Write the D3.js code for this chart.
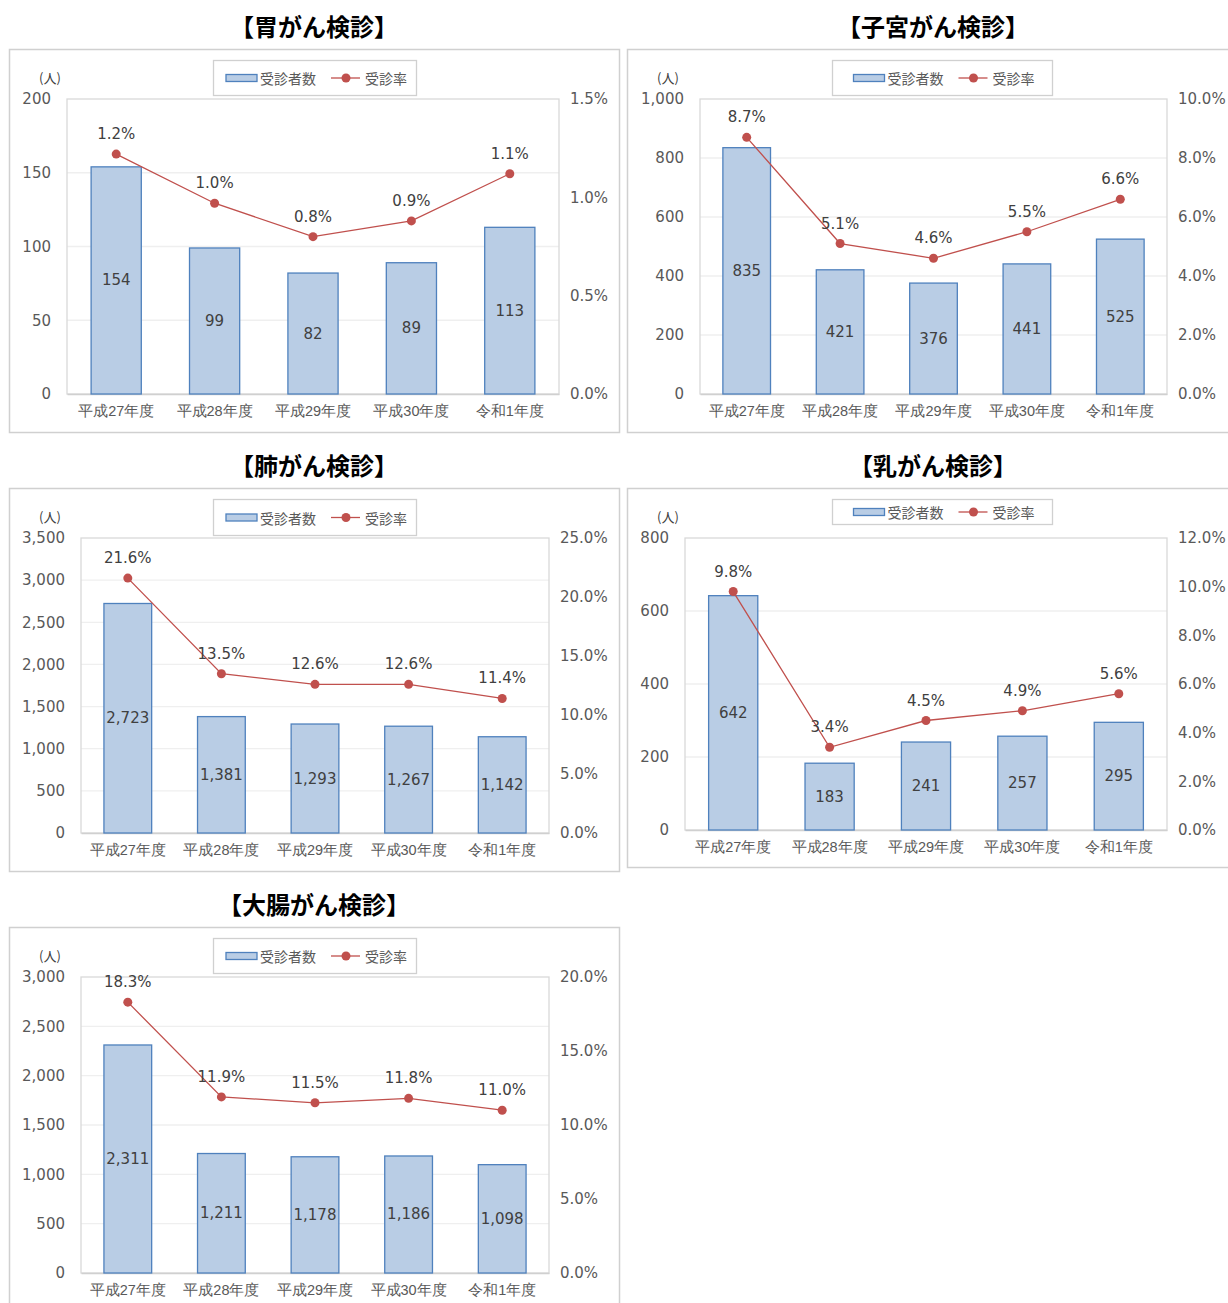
<!DOCTYPE html>
<html>
<head>
<meta charset="utf-8">
<script src="https://cdn.jsdelivr.net/npm/d3@7"></script>
<style>
body{margin:0;background:#fff;}
svg{display:block;font-family:"Noto Sans CJK JP","Noto Sans",sans-serif;}
.num{font-family:"DejaVu Sans","Noto Sans CJK JP",sans-serif;}
</style>
</head>
<body>
<div id="chart"></div>
<script>
// data
var categories=["平成27年度","平成28年度","平成29年度","平成30年度","令和1年度"];

var stomachCounts=[154,99,82,89,113];
var stomachRates=[1.22,0.97,0.80,0.88,1.12];

var uterineCounts=[835,421,376,441,525];
var uterineRates=[8.7,5.1,4.6,5.5,6.6];

var lungCounts=[2723,1381,1293,1267,1142];
var lungRates=[21.6,13.5,12.6,12.6,11.4];

var breastCounts=[642,183,241,257,295];
var breastRates=[9.8,3.4,4.5,4.9,5.6];

var colonCounts=[2311,1211,1178,1186,1098];
var colonRates=[18.3,11.9,11.5,11.8,11.0];

var legendLabels=["受診者数","受診率"];

var barFill="#b9cde5";
var barStroke="#4f81bd";
var lineColor="#c0504d";
var textColor="#595959";

var svg=d3.select("#chart").append("svg").attr("width",1228).attr("height",1303);

var charts=[
  {title:"【胃がん検診】",counts:stomachCounts,rates:stomachRates,yMax:200,yStep:50,rMax:1.5,rStep:0.5,
   panel:[9.5,49.5,610,383],plot:[67,99,492,295],legend:[213.5,60.5,203,35],unitX:50,titleX:314,titleY:25},
  {title:"【子宮がん検診】",counts:uterineCounts,rates:uterineRates,yMax:1000,yStep:200,rMax:10,rStep:2,
   panel:[627.5,49.5,640,383],plot:[700,99,467,295],legend:[832.5,60.5,220,35],unitX:668,titleX:933,titleY:25},
  {title:"【肺がん検診】",counts:lungCounts,rates:lungRates,yMax:3500,yStep:500,rMax:25,rStep:5,
   panel:[9.5,488.5,610,383],plot:[81,538,468,295],legend:[213.5,499.5,203,36],unitX:50,titleX:314,titleY:464},
  {title:"【乳がん検診】",counts:breastCounts,rates:breastRates,yMax:800,yStep:200,rMax:12,rStep:2,
   panel:[627.5,488.5,640,379],plot:[685,538,482,292],legend:[832.5,499.5,220,25],unitX:668,titleX:933,titleY:464},
  {title:"【大腸がん検診】",counts:colonCounts,rates:colonRates,yMax:3000,yStep:500,rMax:20,rStep:5,
   panel:[9.5,927.5,610,420],plot:[81,977,468,296],legend:[213.5,938.5,203,35],unitX:50,titleX:314,titleY:903}
];

charts.forEach(drawChart);

function drawChart(c){
  var g=svg.append("g");
  var px=c.plot[0],py=c.plot[1],pw=c.plot[2],ph=c.plot[3];

  // title
  g.append("text").attr("x",c.titleX).attr("y",c.titleY).attr("text-anchor","middle")
    .attr("dominant-baseline","central").attr("font-size",24).attr("font-weight","bold")
    .attr("fill","#000").text(c.title);

  // panel
  g.append("rect").attr("x",c.panel[0]).attr("y",c.panel[1]).attr("width",c.panel[2]).attr("height",c.panel[3])
    .attr("fill","#fff").attr("stroke","#d0d0d0").attr("stroke-width",1.5);

  var x=d3.scaleBand().domain(categories).range([px,px+pw]).paddingInner(0.49).paddingOuter(0.245);
  var y=d3.scaleLinear().domain([0,c.yMax]).range([py+ph,py]);
  var yr=d3.scaleLinear().domain([0,c.rMax]).range([py+ph,py]);

  var yTicks=d3.range(0,c.yMax+c.yStep/2,c.yStep);
  var rTicks=d3.range(0,c.rMax+c.rStep/2,c.rStep);

  // gridlines
  g.append("g").selectAll("line").data(yTicks.slice(1,-1)).join("line")
    .attr("x1",px).attr("x2",px+pw).attr("y1",d=>y(d)).attr("y2",d=>y(d))
    .attr("stroke","#efefef").attr("stroke-width",1.3);
  // plot border
  g.append("rect").attr("x",px).attr("y",py).attr("width",pw).attr("height",ph)
    .attr("fill","none").attr("stroke","#d9d9d9").attr("stroke-width",1.3);

  // left axis
  var fmt=d3.format(",");
  var la=d3.axisLeft(y).tickValues(yTicks).tickFormat(fmt).tickSize(0).tickPadding(16);
  var lg=g.append("g").attr("transform","translate("+px+",0)").call(la);
  lg.select(".domain").remove();
  lg.selectAll("text").attr("class","num").attr("font-size",15).attr("fill",textColor).attr("font-family",null);

  // right axis
  var ra=d3.axisRight(yr).tickValues(rTicks).tickFormat(d=>d.toFixed(1)+"%").tickSize(0).tickPadding(11);
  var rg=g.append("g").attr("transform","translate("+(px+pw)+",0)").call(ra);
  rg.select(".domain").remove();
  rg.selectAll("text").attr("class","num").attr("font-size",15).attr("fill",textColor).attr("font-family",null);

  // bottom axis
  var ba=d3.axisBottom(x).tickSize(0).tickPadding(12);
  var bg=g.append("g").attr("transform","translate(0,"+(py+ph)+")").call(ba);
  bg.select(".domain").attr("stroke","#d0d0d0").attr("stroke-width",1.5);
  bg.selectAll("text").attr("font-size",14.5).attr("fill",textColor).attr("font-family",null);

  // unit
  g.append("text").attr("x",c.unitX).attr("y",c.plot[1]-22).attr("text-anchor","middle")
    .attr("dominant-baseline","central").attr("font-size",13).attr("fill","#404040").text("(人)");

  // bars
  g.append("g").selectAll("rect").data(c.counts).join("rect")
    .attr("x",(d,i)=>x(categories[i])).attr("y",d=>y(d))
    .attr("width",x.bandwidth()).attr("height",d=>y(0)-y(d))
    .attr("fill",barFill).attr("stroke",barStroke).attr("stroke-width",1.3);
  g.append("g").selectAll("text").data(c.counts).join("text")
    .attr("class","num")
    .attr("x",(d,i)=>x(categories[i])+x.bandwidth()/2).attr("y",d=>(y(d)+y(0))/2)
    .attr("text-anchor","middle").attr("dominant-baseline","central")
    .attr("font-size",15).attr("fill","#404040").text(d=>fmt(d));

  // line
  var line=d3.line().x((d,i)=>x(categories[i])+x.bandwidth()/2).y(d=>yr(d));
  g.append("path").datum(c.rates).attr("d",line).attr("fill","none")
    .attr("stroke",lineColor).attr("stroke-width",1.3);
  g.append("g").selectAll("circle").data(c.rates).join("circle")
    .attr("cx",(d,i)=>x(categories[i])+x.bandwidth()/2).attr("cy",d=>yr(d)).attr("r",4.5)
    .attr("fill",lineColor);
  g.append("g").selectAll("text").data(c.rates).join("text")
    .attr("class","num")
    .attr("x",(d,i)=>x(categories[i])+x.bandwidth()/2).attr("y",d=>yr(d)-20)
    .attr("text-anchor","middle").attr("dominant-baseline","central")
    .attr("font-size",15).attr("fill","#404040").text(d=>d.toFixed(1)+"%");

  // legend
  var L=c.legend;
  g.append("rect").attr("x",L[0]).attr("y",L[1]).attr("width",L[2]).attr("height",L[3])
    .attr("fill","#fff").attr("stroke","#d0d0d0").attr("stroke-width",1.3);
  var cx=L[0]+L[2]/2, cy=L[1]+L[3]/2;
  g.append("rect").attr("x",cx-89).attr("y",cy-3.5).attr("width",31).attr("height",7)
    .attr("fill",barFill).attr("stroke",barStroke).attr("stroke-width",1.3);
  g.append("text").attr("x",cx-55).attr("y",cy).attr("dominant-baseline","central")
    .attr("font-size",14).attr("fill",textColor).text(legendLabels[0]);
  g.append("line").attr("x1",cx+16).attr("x2",cx+45).attr("y1",cy).attr("y2",cy)
    .attr("stroke",lineColor).attr("stroke-width",1.3);
  g.append("circle").attr("cx",cx+31).attr("cy",cy).attr("r",4.5).attr("fill",lineColor);
  g.append("text").attr("x",cx+50).attr("y",cy).attr("dominant-baseline","central")
    .attr("font-size",14).attr("fill",textColor).text(legendLabels[1]);
}
</script>
</body>
</html>
